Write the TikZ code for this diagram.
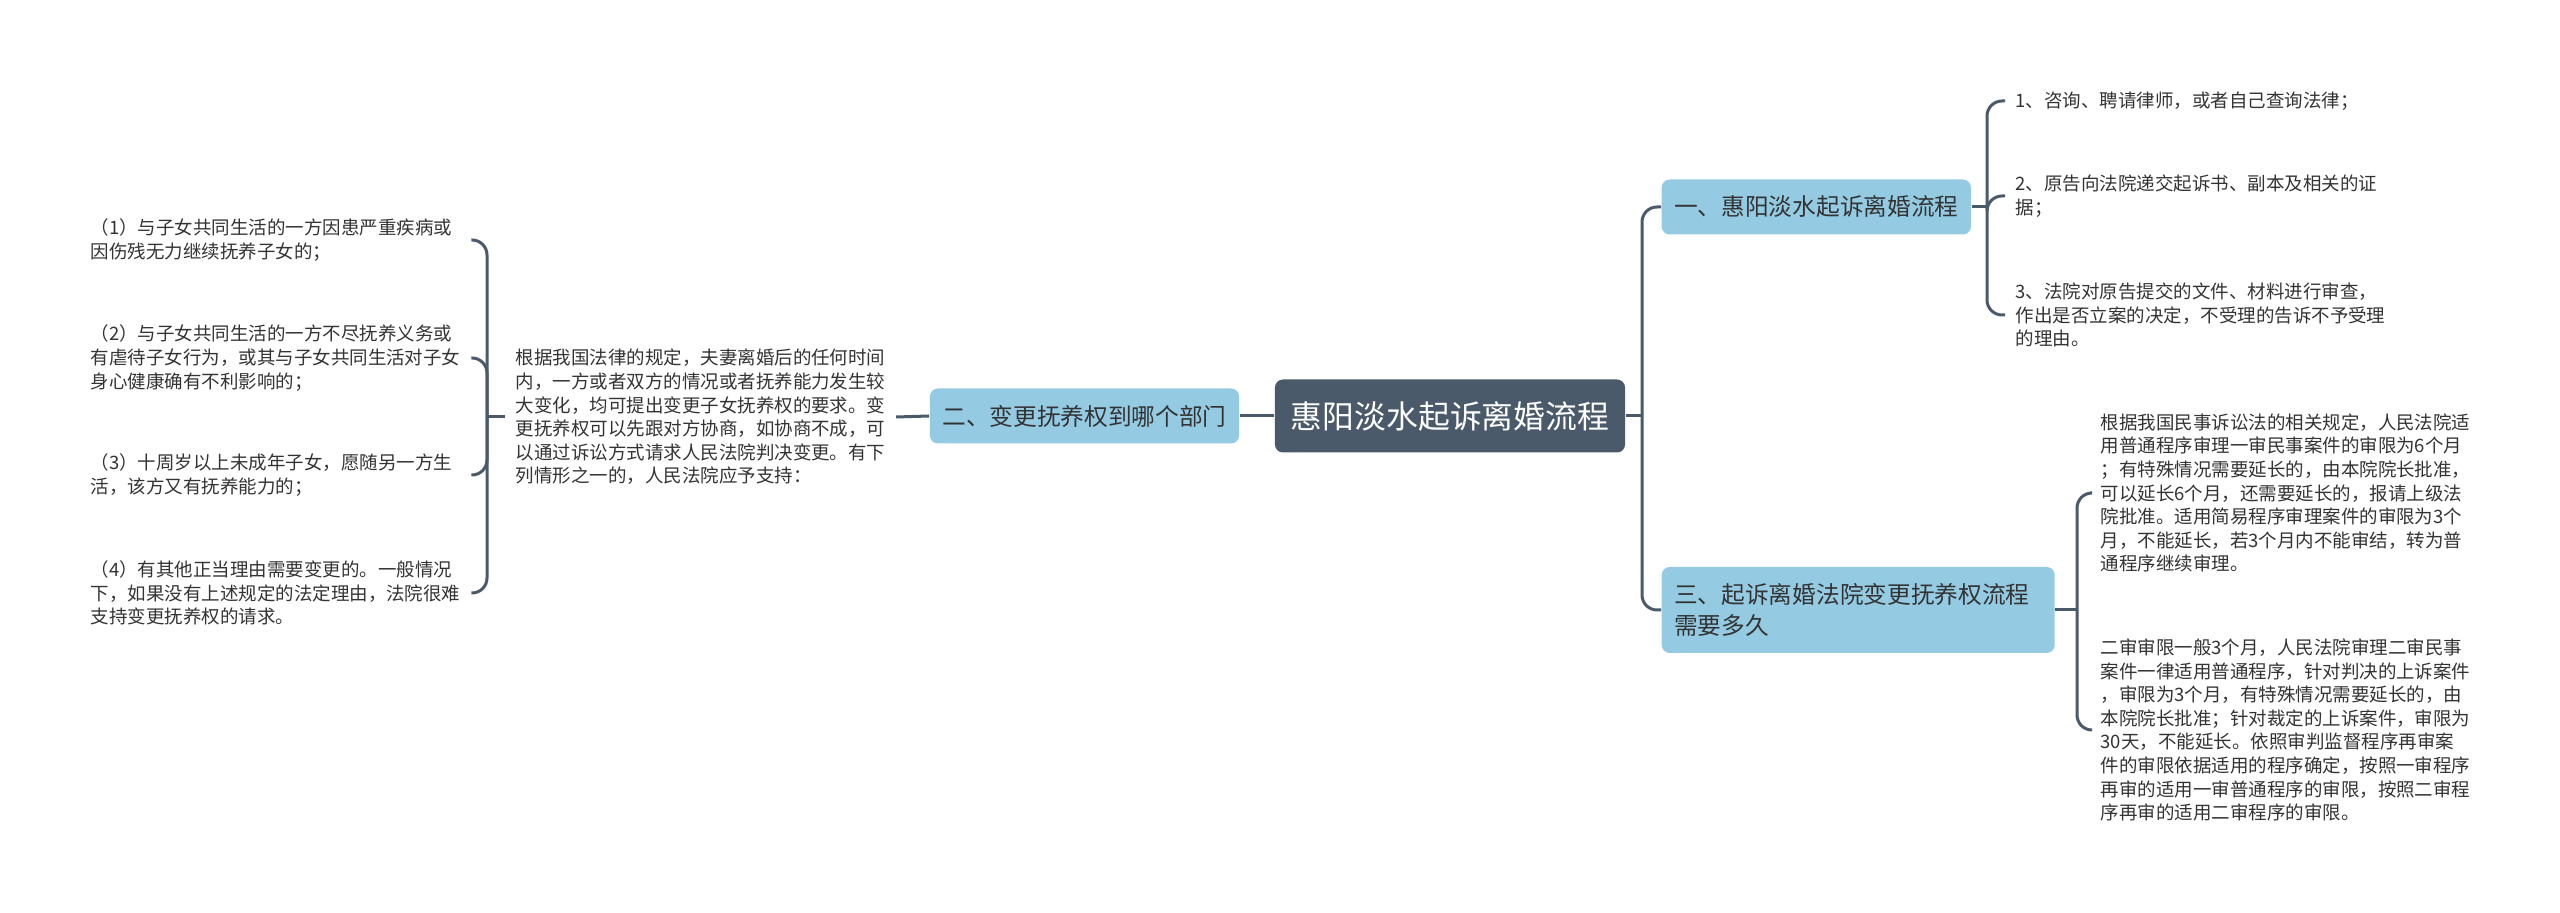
\documentclass[tikz,border=0pt]{standalone}
\usepackage{fontspec}
\setmainfont{Noto Sans CJK SC}
\definecolor{slate}{HTML}{4B5A6B}
\definecolor{skyfill}{HTML}{94CBE3}
\definecolor{txt}{HTML}{333333}

\begin{document}
\begin{tikzpicture}[
	root/.style={fill=slate, text=white, rounded corners=0.08cm, inner xsep=0.16cm, minimum height=0.73cm, font=\fontsize{9.05pt}{10pt}\selectfont},
	branch/.style={fill=skyfill, text=txt, rounded corners=0.08cm, inner xsep=0.125cm, minimum height=0.55cm, font=\fontsize{6.74pt}{8.8pt}\selectfont},
	leaf/.style={text=txt, align=left, inner xsep=0.1cm, inner ysep=0pt, font=\fontsize{5.26pt}{6.72pt}\selectfont},
	link/.style={slate, line width=0.03cm},
	fork/.style={slate, line width=0.03cm, rounded corners=0.15cm}
]

	\useasboundingbox (0,0) rectangle (25.6,-9.13);

	\node[root] (root) at (14.50,-4.16) {惠阳淡水起诉离婚流程};

	\node[branch] (b2) at (10.845,-4.16) {二、变更抚养权到哪个部门};
	\node[leaf, anchor=west] (ltext) at (5.05,-4.17) {根据我国法律的规定，夫妻离婚后的任何时间\\内，一方或者双方的情况或者抚养能力发生较\\大变化，均可提出变更子女抚养权的要求。变\\更抚养权可以先跟对方协商，如协商不成，可\\以通过诉讼方式请求人民法院判决变更。有下\\列情形之一的，人民法院应予支持：};
	\coordinate (jl) at (4.87,-4.17);

	\node[leaf, anchor=west, text width=3.70cm] (l1) at (0.80,-2.40) {（1）与子女共同生活的一方因患严重疾病或\\因伤残无力继续抚养子女的；};
	\node[leaf, anchor=west, text width=3.70cm] (l2) at (0.80,-3.58) {（2）与子女共同生活的一方不尽抚养义务或\\有虐待子女行为，或其与子女共同生活对子女\\身心健康确有不利影响的；};
	\node[leaf, anchor=west, text width=3.70cm] (l3) at (0.80,-4.75) {（3）十周岁以上未成年子女，愿随另一方生\\活，该方又有抚养能力的；};
	\node[leaf, anchor=west, text width=3.70cm] (l4) at (0.80,-5.93) {（4）有其他正当理由需要变更的。一般情况\\下，如果没有上述规定的法定理由，法院很难\\支持变更抚养权的请求。};

	\coordinate (jr) at (16.42,-4.16);
	\node[branch, anchor=west] (b1) at (16.61,-2.07) {一、惠阳淡水起诉离婚流程};
	\node[branch, anchor=west, text width=3.68cm, align=left, minimum height=0.86cm] (b3) at (16.61,-6.10) {三、起诉离婚法院变更抚养权流程\\需要多久};

	\coordinate (j1) at (19.87,-2.07);
	\node[leaf, anchor=west] (r1) at (20.05,-1.01) {1、咨询、聘请律师，或者自己查询法律；};
	\node[leaf, anchor=west] (r2) at (20.05,-1.96) {2、原告向法院递交起诉书、副本及相关的证\\据；};
	\node[leaf, anchor=west] (r3) at (20.05,-3.15) {3、法院对原告提交的文件、材料进行审查，\\作出是否立案的决定，不受理的告诉不予受理\\的理由。};

	\coordinate (j3) at (20.77,-6.10);
	\node[leaf, anchor=west] (s1) at (20.90,-4.93) {根据我国民事诉讼法的相关规定，人民法院适\\用普通程序审理一审民事案件的审限为6个月\\；有特殊情况需要延长的，由本院院长批准，\\可以延长6个月，还需要延长的，报请上级法\\院批准。适用简易程序审理案件的审限为3个\\月，不能延长，若3个月内不能审结，转为普\\通程序继续审理。};
	\node[leaf, anchor=west] (s2) at (20.90,-7.30) {二审审限一般3个月，人民法院审理二审民事\\案件一律适用普通程序，针对判决的上诉案件\\，审限为3个月，有特殊情况需要延长的，由\\本院院长批准；针对裁定的上诉案件，审限为\\30天，不能延长。依照审判监督程序再审案\\件的审限依据适用的程序确定，按照一审程序\\再审的适用一审普通程序的审限，按照二审程\\序再审的适用二审程序的审限。};

	\draw[link] (root.west) -- (b2.east);
	\draw[link] (b2.west) -- (ltext.east);
	\draw[link] (ltext.west) -- (jl);
	\foreach \n in {l1,l2,l3,l4}
		\draw[fork] (jl) |- (\n.east);

	\draw[link] (root.east) -- (jr);
	\draw[fork] (jr) |- (b1.west);
	\draw[fork] (jr) |- (b3.west);

	\draw[link] (b1.east) -- (j1);
	\foreach \n in {r1,r2,r3}
		\draw[fork] (j1) |- (\n.west);

	\draw[link] (b3.east) -- (j3);
	\foreach \n in {s1,s2}
		\draw[fork] (j3) |- (\n.west);

\end{tikzpicture}
\end{document}
